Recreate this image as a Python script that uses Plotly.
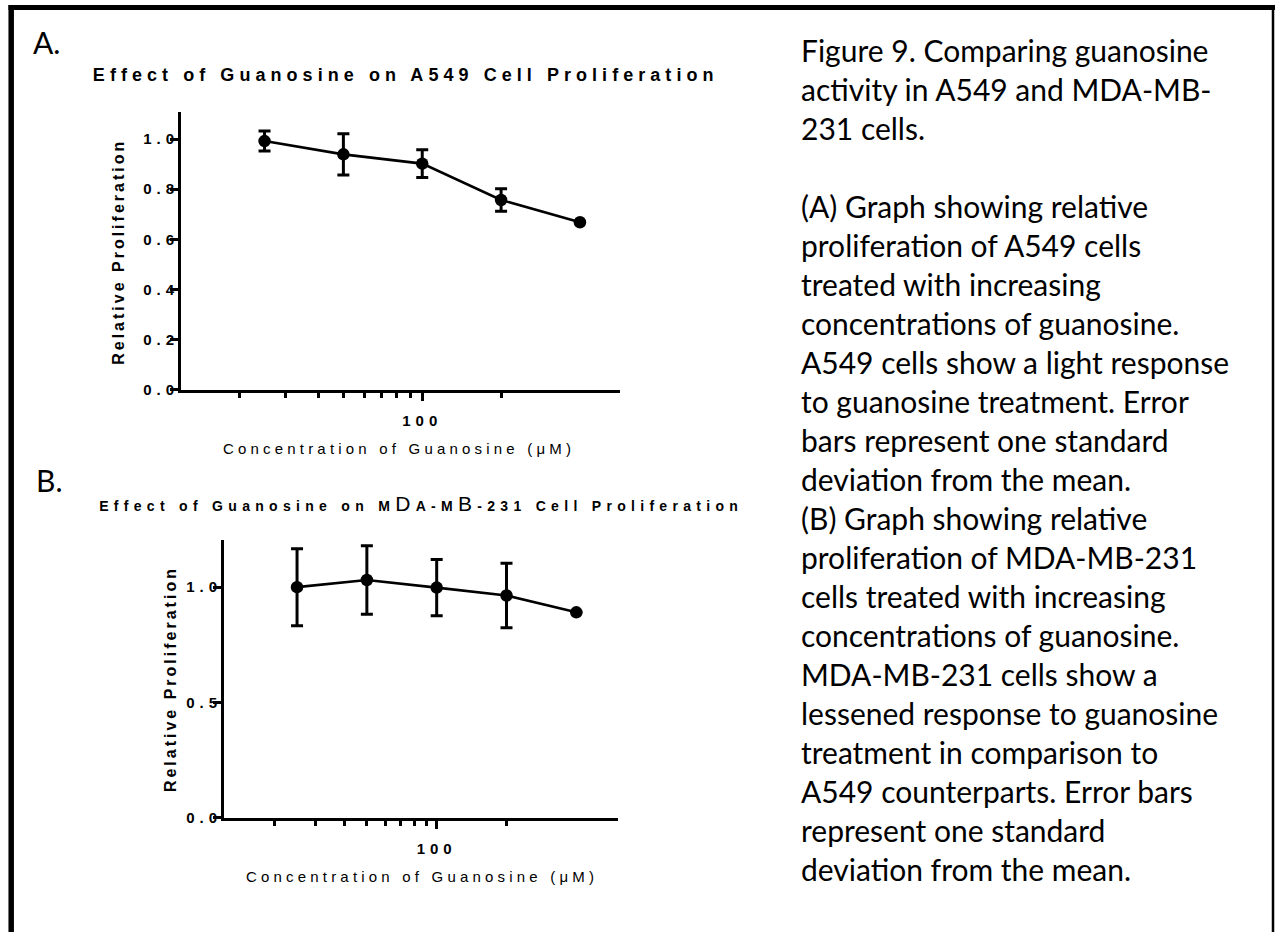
import plotly.graph_objects as go

W, H = 1275, 932

# ---------------- data ----------------
concentration_uM = [25, 50, 100, 200, 400]
a549_mean = [0.992, 0.939, 0.902, 0.757, 0.668]
a549_sd = [0.040, 0.082, 0.055, 0.045, 0.0]
mda_mean = [1.000, 1.031, 0.998, 0.964, 0.891]
mda_sd = [0.167, 0.148, 0.122, 0.140, 0.0]

a_yticks = [0.0, 0.2, 0.4, 0.6, 0.8, 1.0]
b_yticks = [0.0, 0.5, 1.0]
x_major_ticks = [100]
x_minor_ticks = [20, 30, 40, 50, 60, 70, 80, 90, 200]

title_a = "Effect of Guanosine on A549 Cell Proliferation"
title_b = ("Effect of Guanosine on M<span style='font-size:21px;font-weight:normal'>D</span>A-M"
           "<span style='font-size:21px;font-weight:normal'>B</span>-231 Cell Proliferation")
x_title = "Concentration of Guanosine (μM)"
y_title = "Relative Proliferation"

caption_lines = [
    "Figure 9. Comparing guanosine",
    "activity in A549 and MDA-MB-",
    "231 cells.",
    "",
    "(A) Graph showing relative",
    "proliferation of A549 cells",
    "treated with increasing",
    "concentrations of guanosine.",
    "A549 cells show a light response",
    "to guanosine treatment. Error",
    "bars represent one standard",
    "deviation from the mean.",
    "(B) Graph showing relative",
    "proliferation of MDA-MB-231",
    "cells treated with increasing",
    "concentrations of guanosine.",
    "MDA-MB-231 cells show a",
    "lessened response to guanosine",
    "treatment in comparison to",
    "A549 counterparts. Error bars",
    "represent one standard",
    "deviation from the mean.",
]

# ---------------- helpers ----------------
def px_x(p):
    return p / W

def px_y(p):
    return 1 - p / H

ARIAL = "Liberation Sans, Arial, sans-serif"
CAPTION_FONT = "Lato, Carlito, Calibri, sans-serif"

fig = go.Figure()

for xa, ya, mean, sd in [("x", "y", a549_mean, a549_sd), ("x2", "y2", mda_mean, mda_sd)]:
    fig.add_trace(go.Scatter(
        x=concentration_uM, y=mean, xaxis=xa, yaxis=ya,
        mode="lines+markers",
        line=dict(color="black", width=2.6),
        marker=dict(color="black", size=12.5, symbol="circle"),
        error_y=dict(type="data", array=sd, visible=True, color="black",
                     thickness=3, width=6),
        showlegend=False, hoverinfo="skip",
    ))

TICKFONT = dict(family=ARIAL, size=15, color="black", weight="bold")

def xaxis_common(domain_px, rng_log):
    return dict(
        type="log", domain=[px_x(domain_px[0]), px_x(domain_px[1])],
        range=rng_log, showgrid=False, zeroline=False,
        showline=True, linecolor="black", linewidth=3,
        ticks="outside", ticklen=8, tickwidth=3, tickcolor="black",
        tickvals=x_major_ticks, ticktext=[str(v) for v in x_major_ticks],
        tickfont=TICKFONT,
        ticklabelstandoff=7,
        minor=dict(tickvals=x_minor_ticks, ticks="outside", ticklen=5,
                   tickwidth=2.5, tickcolor="black", showgrid=False),
    )

def yaxis_common(domain_px, rng, ticks, anchor):
    return dict(
        domain=[px_y(domain_px[1]), px_y(domain_px[0])],
        range=rng, showgrid=False, zeroline=False, anchor=anchor,
        showline=True, linecolor="black", linewidth=3,
        ticks="outside", ticklen=8, tickwidth=3, tickcolor="black",
        tickvals=ticks, tickformat=".1f",
        tickfont=TICKFONT,
        ticklabelstandoff=-12,
    )

fig.update_layout(
    width=W, height=H, autosize=False,
    margin=dict(l=0, r=0, t=0, b=0),
    paper_bgcolor="white", plot_bgcolor="white",
    xaxis=dict(anchor="y", **xaxis_common((181, 620), [1.079, 2.755])),
    yaxis=yaxis_common((113, 393), [0, 1.108], a_yticks, "x"),
    xaxis2=dict(anchor="y2", **xaxis_common((224, 618.3), [1.083, 2.783])),
    yaxis2=yaxis_common((545, 825), [0, 1.203], b_yticks, "x2"),
)

def ann(text, xpx, ypx, font, xanchor="center", yanchor="middle", **kw):
    return dict(text=text, x=px_x(xpx), y=px_y(ypx), xref="paper", yref="paper",
                xanchor=xanchor, yanchor=yanchor, showarrow=False, font=font, **kw)

TITLE_A_FONT = dict(family=ARIAL, size=18, color="black", weight="bold")
TITLE_B_FONT = dict(family=ARIAL, size=14, color="black", weight="bold")
YT_FONT = dict(family=ARIAL, size=16, color="black", weight="bold")
XT_FONT = dict(family=ARIAL, size=15, color="black")
LETTER_FONT = dict(family=CAPTION_FONT, size=30, color="black")

annotations = [
    ann(title_a, 405, 75.5, TITLE_A_FONT),
    ann(title_b, 421, 508, TITLE_B_FONT),
    ann(y_title, 119, 254, YT_FONT, textangle=-90),
    ann(y_title, 170, 685, YT_FONT, textangle=-90),
    ann(x_title, 399, 452.5, XT_FONT),
    ann(x_title, 422, 884.5, XT_FONT),
    ann("A.", 31, 42, LETTER_FONT, xanchor="left"),
    ann("B.", 34, 484, LETTER_FONT, xanchor="left"),
    ann("<br>".join(caption_lines), 799, 30, LETTER_FONT, xanchor="left", yanchor="top",
        align="left"),
]
fig.update_layout(annotations=annotations)

# frame around the figure (open at the bottom)
shapes = [
    dict(type="line", xref="paper", yref="paper", x0=px_x(8.5), x1=px_x(1275), y0=px_y(7.5), y1=px_y(7.5),
         line=dict(color="black", width=5)),
    dict(type="line", xref="paper", yref="paper", x0=px_x(11.2), x1=px_x(11.2), y0=px_y(5), y1=px_y(940),
         line=dict(color="black", width=5.5)),
    dict(type="line", xref="paper", yref="paper", x0=px_x(1273), x1=px_x(1273), y0=px_y(5), y1=px_y(940),
         line=dict(color="black", width=2.5)),
]
fig.update_layout(shapes=shapes)

post_js = """
var gd = document.getElementById('{plot_id}');
function applySpacing(){
  gd.querySelectorAll('text').forEach(function(t){
    var s = t.textContent;
    var v = null;
    if (/^[0-9.]+$/.test(s)) v = '5px';
    else if (s.indexOf('Effect of Guanosine on A') === 0) v = '5.05px';
    else if (s.indexOf('Effect of Guanosine on M') === 0) v = '5.3px';
    else if (s === 'Relative Proliferation') v = '3px';
    else if (s.indexOf('Concentration of Guanosine') === 0) v = '4.2px';
    if (v) t.style.letterSpacing = v;
  });
}
applySpacing();
gd.on('plotly_afterplot', applySpacing);
"""

fig.write_html("out.html", post_script=post_js)
